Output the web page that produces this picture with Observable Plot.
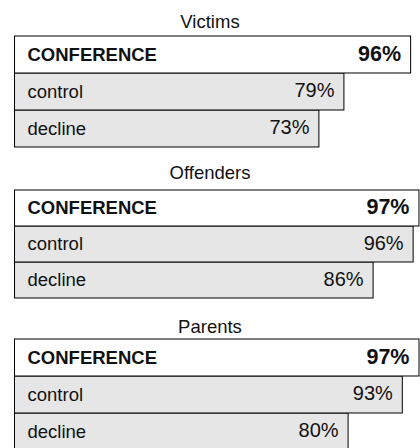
<!DOCTYPE html>
<html>
<head>
<meta charset="utf-8">
<script src="https://cdn.jsdelivr.net/npm/d3@7"></script>
<script src="https://cdn.jsdelivr.net/npm/@observablehq/plot@0.6"></script>
<style>
  html, body { margin: 0; padding: 0; background: #fff; }
  #chart { width: 420px; height: 448px; overflow: hidden; position: relative; font-family: "Liberation Sans", Arial, sans-serif; }
  .title { text-align: center; font-size: 18.5px; line-height: 20px; color: #111; box-sizing: border-box; }
  svg { overflow: visible; }
</style>
</head>
<body>
<div id="chart"></div>
<script>
const groups = ["Victims", "Offenders", "Parents"];
const categories = ["CONFERENCE", "control", "decline"];
const victimsValues = [95, 79, 73];
const offendersValues = [97, 95.6, 86];
const parentsValues = [97, 93, 80];
const victimsLabels = ["96%", "79%", "73%"];
const offendersLabels = ["97%", "96%", "86%"];
const parentsLabels = ["97%", "93%", "80%"];

const series = [
  {values: victimsValues, labels: victimsLabels},
  {values: offendersValues, labels: offendersLabels},
  {values: parentsValues, labels: parentsLabels}
];
const layout = [
  {titleH: 34.5, padTop: 12, plotH: 112.2},
  {titleH: 42.6, padTop: 16.5, plotH: 110.7},
  {titleH: 38.5, padTop: 17.5, plotH: 112.5}
];

const root = document.getElementById("chart");
groups.forEach((g, gi) => {
  const t = document.createElement("div");
  t.className = "title";
  t.style.height = layout[gi].titleH + "px";
  t.style.paddingTop = layout[gi].padTop + "px";
  t.textContent = g;
  root.appendChild(t);

  const data = categories.map((c, i) => ({
    cat: c,
    value: series[gi].values[i],
    label: series[gi].labels[i],
    main: i === 0
  }));
  const ordered = data.slice().reverse();
  const main = data.filter(d => d.main);
  const rest = data.filter(d => !d.main);
  const plot = Plot.plot({
    width: 420,
    height: layout[gi].plotH,
    marginTop: 0, marginBottom: 0, marginLeft: 0, marginRight: 0,
    style: {fontFamily: "'Liberation Sans', Arial, sans-serif", overflow: "visible", background: "transparent"},
    x: {domain: [0, 100], range: [14.5, 431.5], axis: null},
    y: {domain: categories, padding: 0, axis: null},
    marks: [
      Plot.barX(ordered, {
        x1: 0, x2: "value", y: "cat",
        fill: d => d.main ? "#ffffff" : "#e6e6e6",
        stroke: "#000", strokeWidth: 1
      }),
      Plot.text(main, {
        x: 0, y: "cat", text: "cat", dx: 12.5, textAnchor: "start",
        fontSize: 18.5, fontWeight: "bold", fill: "#111"
      }),
      Plot.text(rest, {
        x: 0, y: "cat", text: "cat", dx: 12.5, textAnchor: "start",
        fontSize: 18.5, fill: "#111"
      }),
      Plot.text(main, {
        x: "value", y: "cat", text: "label", dx: -10, dy: -1, textAnchor: "end",
        fontSize: 21.5, fontWeight: "bold", fill: "#111"
      }),
      Plot.text(rest, {
        x: "value", y: "cat", text: "label", dx: -10, dy: -1, textAnchor: "end",
        fontSize: 20, fill: "#111"
      })
    ]
  });
  plot.style.display = "block";
  root.appendChild(plot);
});
</script>
</body>
</html>
